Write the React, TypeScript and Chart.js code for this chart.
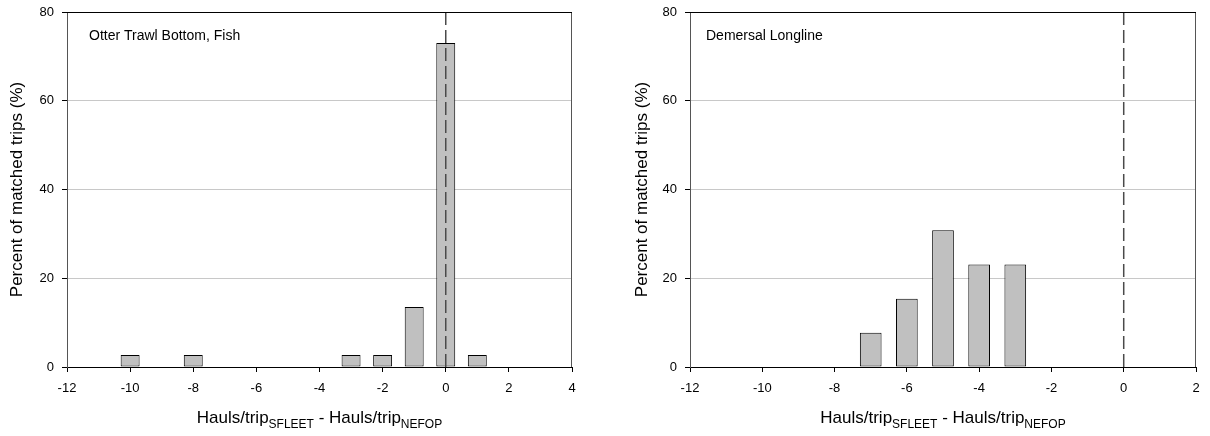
import React, { useEffect, useRef } from "react";
import { Chart, registerables } from "chart.js";

Chart.register(...registerables);

const leftLabel = "Otter Trawl Bottom, Fish";
const leftBins = [-10, -8, -3, -2, -1, 0, 1];
const leftPct = [2.7, 2.7, 2.7, 2.7, 13.5, 73.0, 2.7];
const leftXRange = [-12, 4];

const rightLabel = "Demersal Longline";
const rightBins = [-7, -6, -5, -4, -3];
const rightPct = [7.7, 15.4, 30.8, 23.1, 23.1];
const rightXRange = [-12, 2];

const yRange = [0, 80];
const yTitle = "Percent of matched trips (%)";
const xTitleParts = ["Hauls/trip", "SFLEET", " - Hauls/trip", "NEFOP"];
const refLine = [0];

const FONT = "'Liberation Sans', Arial, Helvetica, sans-serif";

function makeConfig(
  label: string,
  labelOffset: number,
  bins: number[],
  pct: number[],
  xr: number[],
  padLeft: number,
  yWidth: number,
  padRight: number
): any {
  const decor = {
    id: "decor",
    afterDatasetsDraw(chart: any) {
      const { ctx, chartArea } = chart;
      ctx.save();
      ctx.lineWidth = 1;
      // right border
      ctx.strokeStyle = "#555555";
      ctx.beginPath();
      ctx.moveTo(Math.round(chartArea.right) - 0.5, chartArea.top);
      ctx.lineTo(Math.round(chartArea.right) - 0.5, chartArea.bottom);
      ctx.stroke();
      // top border
      ctx.strokeStyle = "#000000";
      ctx.beginPath();
      ctx.moveTo(chartArea.left, Math.round(chartArea.top) + 0.5);
      ctx.lineTo(chartArea.right, Math.round(chartArea.top) + 0.5);
      ctx.stroke();
      // panel label
      ctx.fillStyle = "#000";
      ctx.font = `14px ${FONT}`;
      ctx.textBaseline = "middle";
      ctx.textAlign = "left";
      ctx.fillText(label, chartArea.left + labelOffset, chartArea.top + 24);
      ctx.restore();
    },
    afterDraw(chart: any) {
      const { ctx, chartArea } = chart;
      ctx.save();
      ctx.fillStyle = "#000";
      ctx.textBaseline = "alphabetic";
      ctx.textAlign = "left";
      const big = `17px ${FONT}`;
      const small = `12px ${FONT}`;
      const widths: number[] = [];
      xTitleParts.forEach((p, i) => {
        ctx.font = i % 2 === 0 ? big : small;
        widths.push(ctx.measureText(p).width);
      });
      const total = widths.reduce((a, b) => a + b, 0);
      let x = (chartArea.left + chartArea.right) / 2 - total / 2;
      const base = 423;
      xTitleParts.forEach((p, i) => {
        ctx.font = i % 2 === 0 ? big : small;
        ctx.fillText(p, x, i % 2 === 0 ? base : base + 5);
        x += widths[i];
      });
      ctx.restore();
    },
  };

  return {
    type: "bar",
    data: {
      datasets: [
        {
          type: "line",
          data: [
            { x: refLine[0], y: yRange[0] },
            { x: refLine[0], y: yRange[1] },
          ],
          borderColor: "#4a4a4a",
          borderWidth: 1.5,
          borderDash: [13, 5],
          pointRadius: 0,
          fill: false,
          order: 0,
        },
        {
          type: "bar",
          data: bins.map((b, i) => ({ x: b, y: pct[i] })),
          backgroundColor: "#c0c0c0",
          borderColor: "#000000",
          borderWidth: 1,
          borderSkipped: false,
          categoryPercentage: 1,
          barPercentage: 0.6,
          order: 1,
        },
      ],
    },
    options: {
      responsive: false,
      animation: false,
      layout: { padding: { left: padLeft, right: padRight, top: 12, bottom: 0 } },
      plugins: { legend: { display: false }, tooltip: { enabled: false } },
      scales: {
        x: {
          type: "linear",
          min: xr[0],
          max: xr[1],
          offset: false,
          ticks: {
            stepSize: 2,
            color: "#000",
            font: { family: FONT, size: 13 },
            padding: 9,
            maxRotation: 0,
            autoSkip: false,
          },
          grid: {
            offset: false,
            drawOnChartArea: false,
            drawTicks: true,
            tickLength: 5,
            tickColor: "#000",
            color: "#000",
          },
          border: { display: true, color: "#000", width: 1 },
          afterFit(scale: any) {
            scale.height = 69;
            scale.paddingLeft = 0;
            scale.paddingRight = 0;
          },
        },
        y: {
          min: yRange[0],
          max: yRange[1],
          ticks: {
            stepSize: 20,
            color: "#000",
            font: { family: FONT, size: 13 },
            padding: 8,
          },
          grid: {
            drawTicks: true,
            tickLength: 5,
            tickColor: "#000",
            color: (c: any) =>
              c.tick && c.tick.value > yRange[0] && c.tick.value < yRange[1]
                ? "#c8c8c8"
                : "rgba(0,0,0,0)",
          },
          border: { display: true, color: "#555555", width: 1 },
          title: {
            display: true,
            text: yTitle,
            color: "#000",
            font: { family: FONT, size: 17 },
            padding: { top: 7, bottom: 0 },
          },
          afterFit(scale: any) {
            scale.width = yWidth;
            scale.paddingTop = 0;
            scale.paddingBottom = 0;
          },
        },
      },
    },
    plugins: [decor],
  };
}

function Panel({ cfg }: { cfg: any }) {
  const ref = useRef<HTMLCanvasElement | null>(null);
  useEffect(() => {
    if (!ref.current) return;
    const ch = new Chart(ref.current, cfg);
    return () => ch.destroy();
  }, []);
  return (
    <canvas ref={ref} width={605} height={436} style={{ display: "block", width: 605, height: 436 }} />
  );
}

export default function App() {
  return (
    <div
      style={{
        position: "absolute",
        left: 0,
        top: 0,
        width: 1210,
        height: 436,
        display: "flex",
        background: "#fff",
      }}
    >
      <Panel cfg={makeConfig(leftLabel, 22, leftBins, leftPct, leftXRange, 0, 67, 33)} />
      <Panel cfg={makeConfig(rightLabel, 16, rightBins, rightPct, rightXRange, 20, 65, 14)} />
    </div>
  );
}
